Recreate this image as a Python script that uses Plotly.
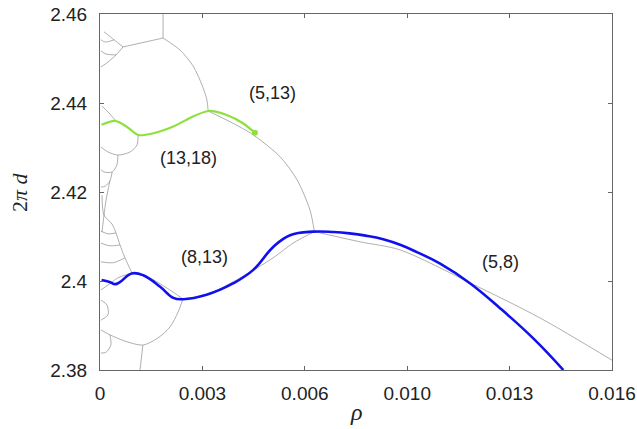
import plotly.graph_objects as go

# ---- tick positions and labels ----
x_tickvals = [0.0, 0.0032, 0.0064, 0.0096, 0.0128, 0.016]
x_ticktext = ["0", "0.003", "0.006", "0.010", "0.013", "0.016"]
y_tickvals = [2.38, 2.40, 2.42, 2.44, 2.46]
y_ticktext = ["2.38", "2.4", "2.42", "2.44", "2.46"]

# ---- blue branch (lower) ----
blue_rho = [0.00005, 0.0003, 0.00047, 0.00063, 0.00099, 0.00135, 0.00188, 0.00229,
            0.0026, 0.00333, 0.00417, 0.00479, 0.00542, 0.00594, 0.00667, 0.0073,
            0.0078, 0.0083, 0.00885, 0.0094, 0.0099, 0.01063, 0.01156, 0.0125,
            0.01354, 0.01448]
blue_d = [2.4002, 2.3998, 2.3993, 2.3998, 2.4017, 2.4013, 2.3987, 2.3962,
          2.3959, 2.3969, 2.3995, 2.4025, 2.4077, 2.4103, 2.4111, 2.4110,
          2.4107, 2.4102, 2.4094, 2.4081, 2.4065, 2.4039, 2.3995, 2.3939,
          2.3871, 2.3800]

# ---- green branch (upper) ----
green_rho = [0.00005, 0.00047, 0.00083, 0.0012, 0.00167, 0.00229, 0.0028,
             0.00339, 0.00396, 0.00448, 0.00484]
green_d = [2.4351, 2.4360, 2.4347, 2.4328, 2.4332, 2.4347, 2.4366,
           2.4382, 2.4373, 2.4354, 2.4333]

# ---- region boundaries (thin gray network) ----
seg_a_rho = [0.00197, 0.00197]
seg_a_d = [2.4600, 2.4546]
seg_b_rho = [0.00197, 0.0025, 0.00291, 0.00319, 0.00334, 0.00338]
seg_b_d = [2.4546, 2.4519, 2.4483, 2.4440, 2.4407, 2.4382]
seg_c_rho = [0.00338, 0.00469, 0.00563, 0.00616, 0.00656, 0.00670]
seg_c_d = [2.4382, 2.4333, 2.4279, 2.4227, 2.4160, 2.4111]
seg_d_rho = [0.00670, 0.00813, 0.009375, 0.01156, 0.01375, 0.016]
seg_d_d = [2.4111, 2.4088, 2.4070, 2.3996, 2.3917, 2.3822]
seg_e_rho = [0.00670, 0.00603, 0.00541, 0.004375, 0.00334, 0.00259]
seg_e_d = [2.4111, 2.4085, 2.4052, 2.4007, 2.3969, 2.3960]
seg_f_rho = [0.00259, 0.00203, 0.0015, 0.001]
seg_f_d = [2.3960, 2.3987, 2.4009, 2.4018]
seg_g_rho = [0.00259, 0.00244, 0.00219, 0.00181, 0.00134, 0.00078, 0.00031, 0.00003]
seg_g_d = [2.3960, 2.3930, 2.3897, 2.3872, 2.3856, 2.3865, 2.3879, 2.3890]
seg_h_rho = [0.00134, 0.00125]
seg_h_d = [2.3856, 2.3800]
seg_p_rho = [0.001, 0.00078, 0.000625, 0.0005, 0.000375, 0.000125, 0.0000625]
seg_p_d = [2.4018, 2.4052, 2.4081, 2.4108, 2.4128, 2.4148, 2.4193]
seg_p2_rho = [0.001, 0.00056, 0.00025, 0.00003]
seg_p2_d = [2.4018, 2.4007, 2.3991, 2.3980]
seg_s1_rho = [0.000625, 0.00031, 0.00003]
seg_s1_d = [2.4081, 2.4079, 2.4085]
seg_s2_rho = [0.00078, 0.00041, 0.00003]
seg_s2_d = [2.4052, 2.4041, 2.4043]
seg_s3_rho = [0.0005, 0.00025, 0.00003]
seg_s3_d = [2.4108, 2.4106, 2.4112]
seg_s4_rho = [0.00003, 0.00022, 0.00025, 0.00003]
seg_s4_d = [2.3957, 2.3946, 2.3924, 2.3912]
seg_i_rho = [0.00197, 0.00141, 0.00072]
seg_i_d = [2.4546, 2.4537, 2.4526]
seg_j_rho = [0.00072, 0.00044, 0.000125]
seg_j_d = [2.4526, 2.4542, 2.4560]
seg_j2_rho = [0.00072, 0.0005, 0.00025, 0.00003]
seg_j2_d = [2.4526, 2.4508, 2.4492, 2.4481]
seg_t1_rho = [0.00044, 0.00016, 0.00003]
seg_t1_d = [2.4542, 2.4537, 2.4542]
seg_t2_rho = [0.0005, 0.00019, 0.00003]
seg_t2_d = [2.4508, 2.4510, 2.4517]
seg_t3_rho = [0.00047, 0.00025, 0.0000625]
seg_t3_d = [2.4362, 2.4380, 2.4393]
seg_k_rho = [0.00119, 0.00116, 0.00094, 0.00056, 0.00025, 0.00003]
seg_k_d = [2.4328, 2.4306, 2.4290, 2.4283, 2.4290, 2.4301]
seg_l_rho = [0.00056, 0.00053, 0.00038, 0.000125, 0.00003]
seg_l_d = [2.4283, 2.4261, 2.4245, 2.4245, 2.4250]
seg_m_rho = [0.00038, 0.00031, 0.00016, 0.00003]
seg_m_d = [2.4245, 2.4225, 2.4213, 2.4211]
seg_n_rho = [0.00031, 0.00019, 0.000125, 0.0000625]
seg_n_d = [2.4225, 2.4182, 2.4148, 2.4110]
seg_q_rho = [0.00031, 0.00034, 0.00019, 0.00003]
seg_q_d = [2.3879, 2.3856, 2.3840, 2.3838]

boundaries = [
    (seg_a_rho, seg_a_d), (seg_b_rho, seg_b_d), (seg_c_rho, seg_c_d),
    (seg_d_rho, seg_d_d), (seg_e_rho, seg_e_d), (seg_f_rho, seg_f_d),
    (seg_g_rho, seg_g_d), (seg_h_rho, seg_h_d), (seg_p_rho, seg_p_d),
    (seg_p2_rho, seg_p2_d), (seg_s1_rho, seg_s1_d), (seg_s2_rho, seg_s2_d),
    (seg_s3_rho, seg_s3_d), (seg_s4_rho, seg_s4_d), (seg_i_rho, seg_i_d),
    (seg_j_rho, seg_j_d), (seg_j2_rho, seg_j2_d), (seg_t1_rho, seg_t1_d),
    (seg_t2_rho, seg_t2_d), (seg_t3_rho, seg_t3_d), (seg_k_rho, seg_k_d),
    (seg_l_rho, seg_l_d), (seg_m_rho, seg_m_d), (seg_n_rho, seg_n_d),
    (seg_q_rho, seg_q_d),
]

# ---- region labels ----
label_text = ["(5,13)", "(13,18)", "(8,13)", "(5,8)"]
label_rho = [0.005375, 0.00275, 0.00328, 0.0125]
label_d = [2.4422, 2.4276, 2.4054, 2.4043]

fig = go.Figure()

for rx, dy in boundaries:
    fig.add_trace(go.Scatter(
        x=rx, y=dy, mode="lines",
        line=dict(color="#9a9a9a", width=0.8, shape="spline", smoothing=0.8),
        hoverinfo="skip", showlegend=False))

fig.add_trace(go.Scatter(
    x=green_rho, y=green_d, mode="lines",
    line=dict(color="#8ee03c", width=2.2, shape="spline", smoothing=0.8),
    showlegend=False))
fig.add_trace(go.Scatter(
    x=[green_rho[-1]], y=[green_d[-1]], mode="markers",
    marker=dict(color="#8ee03c", size=6), showlegend=False))

fig.add_trace(go.Scatter(
    x=blue_rho, y=blue_d, mode="lines",
    line=dict(color="#1010ee", width=2.6, shape="spline", smoothing=1.2),
    showlegend=False))

for t, rx, dy in zip(label_text, label_rho, label_d):
    fig.add_annotation(x=rx, y=dy, text=t, showarrow=False,
                       font=dict(family="Liberation Sans", size=18, color="#222"))

# axis titles
fig.add_annotation(x=0.5, y=-0.118, xref="paper", yref="paper", text="<i>ρ</i>",
                   showarrow=False, xanchor="center", yanchor="middle",
                   font=dict(family="Liberation Serif", size=24, color="#222"))
fig.add_annotation(x=-0.158, y=0.5, xref="paper", yref="paper", text="2<i>π d</i>",
                   showarrow=False, textangle=-90, xanchor="center", yanchor="middle",
                   font=dict(family="Liberation Serif", size=22, color="#222"))

axis_common = dict(
    showline=True, linecolor="#666", linewidth=1, mirror="ticks",
    ticks="inside", ticklen=4, tickcolor="#666", showgrid=False, zeroline=False,
    automargin=False,
    tickfont=dict(family="Liberation Sans", size=19, color="#222"),
)

fig.update_xaxes(
    range=[0, 0.016], tickvals=x_tickvals, ticktext=x_ticktext,
    ticklabelstandoff=6, **axis_common)
fig.update_yaxes(
    range=[2.38, 2.46], tickvals=y_tickvals, ticktext=y_ticktext,
    ticklabelstandoff=8, **axis_common)

fig.update_layout(
    width=637, height=429,
    margin=dict(l=100, r=25, t=14, b=59),
    paper_bgcolor="white", plot_bgcolor="white",
)

fig.write_html("out.html")
